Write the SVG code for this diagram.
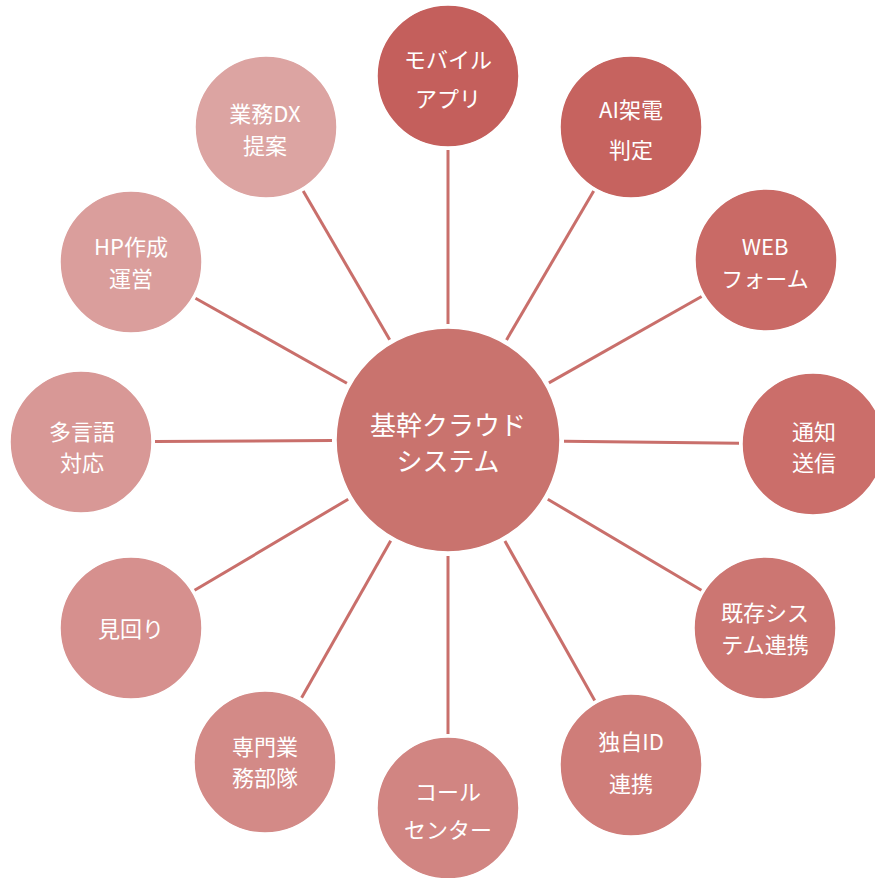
<svg xmlns="http://www.w3.org/2000/svg" width="875" height="878" viewBox="0 0 875 878">
<style>
.bg{fill:#ffffff}
.conn line{stroke:#c96f6b;stroke-width:3;stroke-linecap:butt}
.node circle{stroke:#ffffff;stroke-width:1.5}
.node text{fill:#ffffff;font-family:"Noto Sans CJK JP","Noto Sans",sans-serif;font-size:22px;text-anchor:middle;dominant-baseline:central}
#center text{font-size:26px}
</style>
<rect class="bg" x="0" y="0" width="875" height="878"/>
<g id="connectors" class="conn">
<line x1="448" y1="324" x2="448" y2="150"/>
<line x1="506.5" y1="339.9" x2="593.7" y2="190.9"/>
<line x1="548.9" y1="382.9" x2="701.6" y2="296.5"/>
<line x1="564" y1="441.3" x2="739" y2="443.2"/>
<line x1="547.8" y1="499.2" x2="701.4" y2="590.3"/>
<line x1="504.9" y1="541.1" x2="594.7" y2="700.5"/>
<line x1="448" y1="556" x2="448" y2="734"/>
<line x1="390.7" y1="540.8" x2="301.6" y2="697.7"/>
<line x1="348.2" y1="499.2" x2="194.6" y2="590.3"/>
<line x1="332" y1="440.6" x2="155" y2="441.6"/>
<line x1="346.9" y1="383.2" x2="195.5" y2="298.2"/>
<line x1="389.7" y1="339.7" x2="303.2" y2="191"/>
</g>
<g id="center" class="node">
<circle cx="448" cy="440" r="112" fill="#c9736e"/>
<text x="448" y="423">基幹クラウド</text>
<text x="448" y="459">システム</text>
</g>
<g id="n-mobile" class="node">
<circle cx="448" cy="76" r="71" fill="#c45f5c"/>
<text x="448" y="58">モバイル</text>
<text x="448" y="97">アプリ</text>
</g>
<g id="n-ai" class="node">
<circle cx="631" cy="127" r="71" fill="#c6635f"/>
<text x="631" y="108">AI架電</text>
<text x="631" y="148">判定</text>
</g>
<g id="n-web" class="node">
<circle cx="766" cy="260" r="71" fill="#c96a66"/>
<text x="765" y="245">WEB</text>
<text x="765" y="277">フォーム</text>
</g>
<g id="n-notify" class="node">
<circle cx="813" cy="444" r="71" fill="#cb6e6a"/>
<text x="814" y="430">通知</text>
<text x="814" y="461">送信</text>
</g>
<g id="n-existing" class="node">
<circle cx="765" cy="628" r="71" fill="#cc7672"/>
<text x="765" y="611">既存シス</text>
<text x="765" y="643">テム連携</text>
</g>
<g id="n-id" class="node">
<circle cx="631" cy="765" r="71" fill="#cf7d79"/>
<text x="631" y="740">独自ID</text>
<text x="631" y="782">連携</text>
</g>
<g id="n-call" class="node">
<circle cx="448" cy="808" r="71" fill="#d18582"/>
<text x="448" y="790">コール</text>
<text x="448" y="828">センター</text>
</g>
<g id="n-special" class="node">
<circle cx="265" cy="762" r="71" fill="#d38a87"/>
<text x="265" y="745">専門業</text>
<text x="265" y="776">務部隊</text>
</g>
<g id="n-patrol" class="node">
<circle cx="131" cy="628" r="71" fill="#d6908e"/>
<text x="131" y="627">見回り</text>
</g>
<g id="n-lang" class="node">
<circle cx="81" cy="442" r="71" fill="#d89896"/>
<text x="82" y="430">多言語</text>
<text x="82" y="461">対応</text>
</g>
<g id="n-hp" class="node">
<circle cx="131" cy="262" r="71" fill="#da9e9c"/>
<text x="131" y="245">HP作成</text>
<text x="131" y="277">運営</text>
</g>
<g id="n-dx" class="node">
<circle cx="266" cy="127" r="71" fill="#dca4a2"/>
<text x="265" y="112">業務DX</text>
<text x="265" y="144">提案</text>
</g>
</svg>
